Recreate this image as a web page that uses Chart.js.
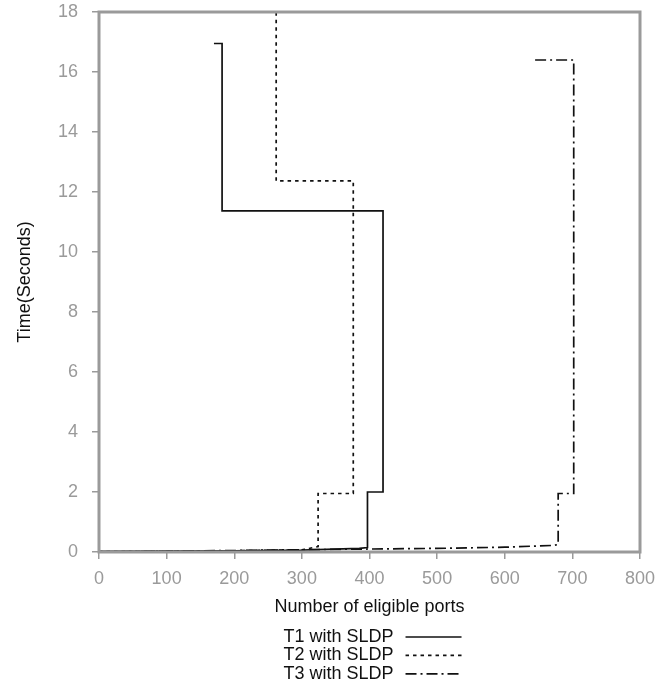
<!DOCTYPE html>
<html>
<head>
<meta charset="utf-8">
<script src="https://cdn.jsdelivr.net/npm/chart.js@4/dist/chart.umd.min.js"></script>
<style>
  html, body { margin: 0; padding: 0; background: #fff; }
  #wrap { width: 672px; height: 685px; position: relative; }
</style>
</head>
<body>
<div id="wrap"><canvas id="chart"></canvas></div>
<script>
// Values (ports, seconds), in drawing order
var t1_ports = [0, 100, 200, 300, 385, 397, 397, 420, 420, 182, 182, 170];
var t1_time  = [0.02, 0.03, 0.04, 0.06, 0.12, 0.15, 2.0, 2.0, 11.37, 11.37, 16.95, 16.95];

var t2_ports = [0, 100, 200, 300, 324, 324, 376, 376, 262, 262, 255];
var t2_time  = [0.01, 0.02, 0.04, 0.07, 0.18, 1.95, 1.95, 12.37, 12.37, 18, 18];

var t3_ports = [0, 200, 400, 500, 600, 672, 679, 679, 702, 702, 642];
var t3_time  = [0.0, 0.05, 0.1, 0.12, 0.16, 0.22, 0.25, 1.95, 1.95, 16.4, 16.4];

var series_labels = ["T1 with SLDP", "T2 with SLDP", "T3 with SLDP"];

var x_ticks = [0, 100, 200, 300, 400, 500, 600, 700, 800];
var y_ticks = [0, 2, 4, 6, 8, 10, 12, 14, 16, 18];

var gray = "#9a9a9a";

function toPoints(xs, ys)
{
    var pts = [];
    for (var i = 0; i < xs.length; ++i)
    {
        pts.push({x: xs[i], y: ys[i]});
    }
    return pts;
}

Chart.defaults.font.family = "'Liberation Sans', Arial, Helvetica, sans-serif";

// Grey frame around the plot area
var framePlugin = {
    id: "frame",
    afterDatasetsDraw: function(chart){
        var a = chart.chartArea;
        var ctx = chart.ctx;
        ctx.save();
        ctx.strokeStyle = gray;
        ctx.lineWidth = 3;
        ctx.strokeRect(a.left, a.top, a.right - a.left, a.bottom - a.top);
        ctx.restore();
    }
};

// Legend below the axis title: text first, then a line sample
var legendPlugin = {
    id: "sideLegend",
    afterDraw: function(chart){
        var ctx = chart.ctx;
        var a = chart.chartArea;
        var sets = chart.data.datasets;
        ctx.save();
        ctx.font = "18px 'Liberation Sans', Arial, Helvetica, sans-serif";
        var maxW = 0;
        for (var i = 0; i < sets.length; ++i)
        {
            maxW = Math.max(maxW, ctx.measureText(sets[i].label).width);
        }
        var lineLen = 56, gap = 12;
        var total = maxW + gap + lineLen;
        var textRight = (a.left + a.right) / 2 - total / 2 + maxW + 3;
        for (var i = 0; i < sets.length; ++i)
        {
            var y = a.bottom + 85 + i * 18.4;
            ctx.fillStyle = "#111";
            ctx.textAlign = "right";
            ctx.textBaseline = "middle";
            ctx.fillText(sets[i].label, textRight, y);
            ctx.strokeStyle = sets[i].borderColor;
            ctx.lineWidth = sets[i].borderWidth;
            ctx.setLineDash(sets[i].borderDash || []);
            ctx.beginPath();
            ctx.moveTo(textRight + gap, y);
            ctx.lineTo(textRight + gap + lineLen, y);
            ctx.stroke();
        }
        ctx.restore();
    }
};

var ctx = document.getElementById("chart").getContext("2d");
var chart = new Chart(ctx, {
    type: "scatter",
    data: {
        datasets: [
            {
                label: series_labels[0],
                data: toPoints(t1_ports, t1_time),
                showLine: true,
                borderColor: "#111",
                borderWidth: 1.7,
                borderDash: [],
                pointRadius: 0,
                tension: 0
            },
            {
                label: series_labels[1],
                data: toPoints(t2_ports, t2_time),
                showLine: true,
                borderColor: "#111",
                borderWidth: 1.7,
                borderDash: [3.5, 4],
                pointRadius: 0,
                tension: 0
            },
            {
                label: series_labels[2],
                data: toPoints(t3_ports, t3_time),
                showLine: true,
                borderColor: "#111",
                borderWidth: 1.7,
                borderDash: [11, 4, 2, 4],
                pointRadius: 0,
                tension: 0
            }
        ]
    },
    options: {
        responsive: true,
        maintainAspectRatio: false,
        animation: false,
        layout: {
            padding: {left: 0, right: 32, top: 12, bottom: 63}
        },
        plugins: {
            legend: {display: false},
            tooltip: {enabled: false}
        },
        scales: {
            x: {
                type: "linear",
                min: 0,
                max: 800,
                afterBuildTicks: function(scale){
                    scale.ticks = x_ticks.map(function(v){ return {value: v}; });
                },
                afterFit: function(scale){
                    scale.height = 70;
                    scale.paddingLeft = 0;
                    scale.paddingRight = 0;
                },
                grid: {
                    drawOnChartArea: false,
                    drawTicks: true,
                    tickLength: 7,
                    color: gray,
                    lineWidth: 1.5
                },
                border: {display: false},
                ticks: {
                    color: gray,
                    padding: 9,
                    font: {size: 18}
                },
                title: {
                    display: true,
                    text: "Number of eligible ports",
                    color: "#111",
                    font: {size: 18},
                    padding: {top: 6, bottom: 4}
                }
            },
            y: {
                type: "linear",
                min: 0,
                max: 18,
                afterBuildTicks: function(scale){
                    scale.ticks = y_ticks.map(function(v){ return {value: v}; });
                },
                afterFit: function(scale){
                    scale.width = 99;
                    scale.paddingTop = 0;
                    scale.paddingBottom = 0;
                },
                grid: {
                    drawOnChartArea: false,
                    drawTicks: true,
                    tickLength: 7,
                    color: gray,
                    lineWidth: 1.5
                },
                border: {display: false},
                ticks: {
                    color: gray,
                    padding: 14,
                    font: {size: 18}
                },
                title: {
                    display: true,
                    text: "Time(Seconds)",
                    color: "#111",
                    font: {size: 18},
                    padding: {top: 14, bottom: 4}
                }
            }
        }
    },
    plugins: [framePlugin, legendPlugin]
});
</script>
</body>
</html>
